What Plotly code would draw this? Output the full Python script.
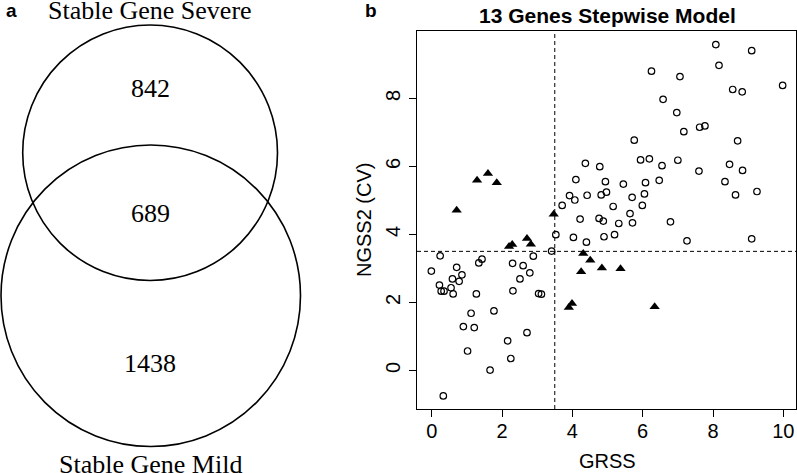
import plotly.graph_objects as go

# ---------------- data ----------------
venn_labels = ["Stable Gene Severe", "Stable Gene Mild"]
venn_counts = [842, 689, 1438]  # severe only, both, mild only

circ_x = [8.08, 9.10, 8.17, 6.25, 7.06, 9.98, 8.56, 8.83, 6.58, 6.97, 7.62, 7.77, 7.17, 5.76, 8.70,
          4.37, 4.78, 5.94, 6.19, 6.55, 7.00, 8.47, 7.60, 8.84, 4.10, 4.94, 5.45, 6.08, 6.47, 8.34,
          3.92, 4.07, 4.42, 4.82, 4.97, 5.70, 6.05, 8.64, 9.25, 3.71, 5.16, 5.99, 5.64, 4.22, 4.76,
          4.88, 5.32, 5.71, 6.79,
          3.53, 4.03, 4.40, 4.90, 5.20, 7.26, 9.10, 3.41, 2.89, 0.24, 1.43, 1.34, 2.30, 2.60, 0.71,
          -0.01, 2.79, 0.86, 0.59, 2.51, 0.78, 0.22, 0.55, 0.27, 0.35, 0.61, 1.27, 2.31, 3.04, 3.12,
          1.77, 1.12, 0.90, 1.21, 2.71, 2.16, 1.02, 2.25, 1.66, 0.33]
circ_y = [9.58, 9.40, 8.97, 8.80, 8.64, 8.38, 8.26, 8.19, 7.97, 7.58, 7.15, 7.19, 7.02, 6.77, 6.75,
          6.09, 5.99, 6.19, 6.22, 6.02, 6.18, 6.06, 5.86, 5.88, 5.61, 5.55, 5.48, 5.52, 5.59, 5.55,
          5.14, 5.01, 5.15, 5.16, 5.24, 5.09, 5.19, 5.16, 5.26, 4.85, 4.82, 4.85, 4.61, 4.45, 4.47,
          4.39, 4.32, 4.34, 4.37,
          3.99, 3.91, 3.77, 3.93, 3.99, 3.81, 3.87, 3.51, 3.36, 3.37, 3.27, 3.16, 3.15, 3.08, 3.03,
          2.92, 2.87, 2.81, 2.69, 2.69, 2.62, 2.51, 2.43, 2.33, 2.33, 2.25, 2.25, 2.34, 2.26, 2.24,
          1.75, 1.68, 1.29, 1.26, 1.11, 0.87, 0.57, 0.35, 0.01, -0.75]

tri_x = [1.60, 1.29, 1.85, 0.71, 3.47, 2.20, 2.29, 2.71, 2.82, 4.31, 4.51, 4.25, 4.84, 5.37, 3.99, 3.90, 6.34]
tri_y = [5.79, 5.59, 5.52, 4.71, 4.59, 3.64, 3.70, 3.88, 3.71, 3.44, 3.24, 2.90, 3.01, 2.99, 1.97, 1.85, 1.87]

cut_x = 3.5
cut_y = 3.5
x_ticks = [0, 2, 4, 6, 8, 10]
y_ticks = [0, 2, 4, 6, 8]

W, H = 797, 473
SANS = "Liberation Sans, Arial, sans-serif"
SERIF = "Liberation Serif, Times New Roman, serif"

fig = go.Figure()

fig.add_trace(go.Scatter(x=circ_x, y=circ_y, mode="markers",
                         marker=dict(symbol="circle-open", size=6.5, color="black", line=dict(width=1.2)),
                         xaxis="x", yaxis="y", showlegend=False, hoverinfo="skip"))
fig.add_trace(go.Scatter(x=tri_x, y=tri_y, mode="markers",
                         marker=dict(symbol="triangle-up", size=9, color="black"),
                         xaxis="x", yaxis="y", showlegend=False, hoverinfo="skip"))

# dashed cut lines
fig.add_shape(type="line", xref="x", yref="y domain", x0=cut_x, x1=cut_x, y0=0, y1=1,
              line=dict(color="black", width=1, dash="4px,3px"))
fig.add_shape(type="line", xref="x domain", yref="y", x0=0, x1=1, y0=cut_y, y1=cut_y,
              line=dict(color="black", width=1, dash="4px,3px"))

# Venn circles (left panel in pixel-like units)
fig.add_shape(type="circle", xref="x2", yref="y2", x0=22.7, x1=277.5, y0=25, y1=280.5,
              line=dict(color="black", width=1.6))
fig.add_shape(type="circle", xref="x2", yref="y2", x0=1, x1=300.5, y0=145, y1=446.5,
              line=dict(color="black", width=1.6))

ann = []
def t(x, y, s, size, fam, bold=False, paper=False, **kw):
    if paper:
        ref = ("paper", "paper")
        x, y = x / W, 1 - y / H
    else:
        ref = ("x2", "y2")
    ann.append(dict(x=x, y=y, xref=ref[0], yref=ref[1], text=f"<b>{s}</b>" if bold else s,
                    showarrow=False, font=dict(size=size, family=fam, color="black"),
                    xanchor="center", yanchor="middle", **kw))

t(150, 10, venn_labels[0], 26, SERIF)
t(150.5, 88, str(venn_counts[0]), 26, SERIF)
t(150, 213.5, str(venn_counts[1]), 26, SERIF)
t(150, 363, str(venn_counts[2]), 26, SERIF)
t(150, 464, venn_labels[1], 26, SERIF)
t(11, 10, "a", 19, SANS, bold=True)
t(371, 10, "b", 19, SANS, bold=True)
t(607, 15, "13 Genes Stepwise Model", 21, SANS, bold=True, paper=True)
t(607, 461, "GRSS", 20, SANS, paper=True)
t(364, 220, "NGSS2 (CV)", 20, SANS, paper=True, textangle=-90)

fig.update_layout(
    width=W, height=H, margin=dict(l=0, r=0, t=0, b=0),
    paper_bgcolor="white", plot_bgcolor="white",
    annotations=ann,
    xaxis=dict(domain=[417 / W, 796 / W], range=[-0.418, 10.36], tickvals=x_ticks,
               ticks="outside", ticklen=7, tickcolor="black", tickwidth=1,
               showline=True, linecolor="black", linewidth=1, mirror=True,
               showgrid=False, zeroline=False, tickfont=dict(size=20, family=SANS, color="black"),
               ticklabelstandoff=-3),
    yaxis=dict(domain=[1 - 409 / H, 1 - 31 / H], range=[-1.135, 9.98], tickvals=y_ticks,
               ticks="outside", ticklen=7, tickcolor="black", tickwidth=1, tickangle=-90,
               showline=True, linecolor="black", linewidth=1, mirror=True,
               showgrid=False, zeroline=False, tickfont=dict(size=20, family=SANS, color="black"),
               ticklabelstandoff=1),
    xaxis2=dict(domain=[0, 380 / W], range=[0, 380], visible=False, fixedrange=True),
    yaxis2=dict(domain=[0, 1], range=[473, 0], visible=False, fixedrange=True, anchor="x2"),
)

fig.write_html("out.html", config={"displayModeBar": False},
               post_script="document.body.style.margin='0';document.body.style.overflow='hidden';")
